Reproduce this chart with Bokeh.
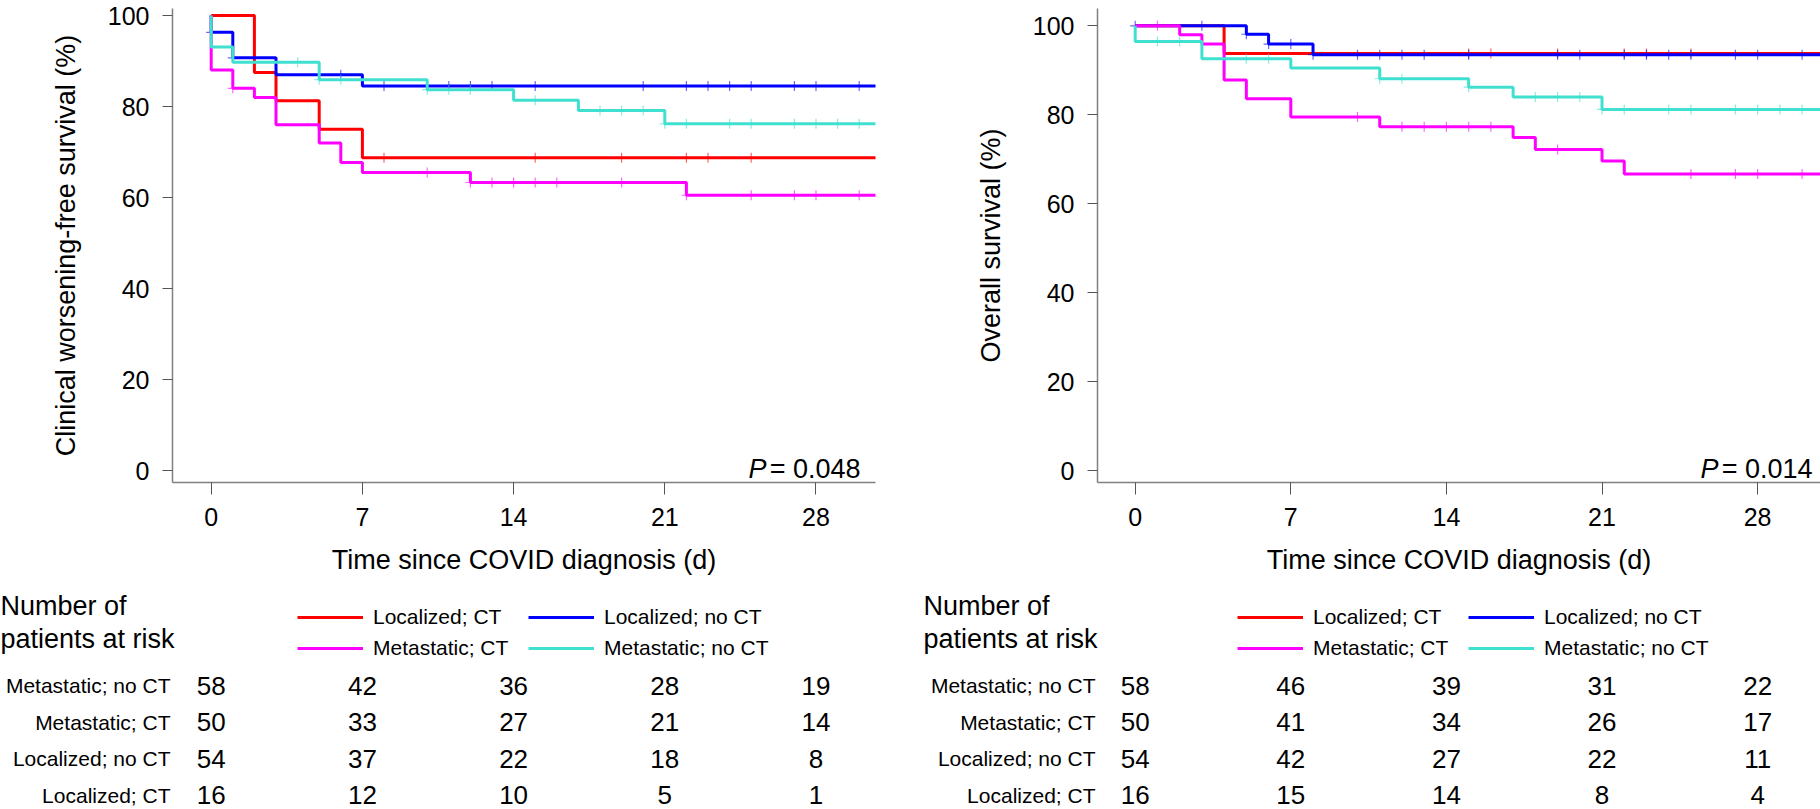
import numpy as np
from bokeh.plotting import figure
from bokeh.layouts import row, column
from bokeh.models import Range1d, FixedTicker, Legend, LegendItem, Label
from bokeh.core.properties import value
from bokeh.embed import file_html
from bokeh.resources import INLINE

FONT = "Liberation Sans"

# ---------------- data ----------------
group_names = ["Localized; CT", "Localized; no CT", "Metastatic; CT", "Metastatic; no CT"]
group_colors = ["#FF0000", "#0000FF", "#FF00FF", "#40E0D0"]

x_ticks = [0, 7, 14, 21, 28]
y_ticks = [0, 20, 40, 60, 80, 100]

# Clinical worsening-free survival (left)
cwfs_loc_ct_t = [0, 2, 3, 5, 7, 31]
cwfs_loc_ct_s = [100, 87.5, 81.25, 75.0, 68.75, 68.75]
cwfs_loc_ct_c = [8, 15, 19, 22, 23, 25]

cwfs_loc_noct_t = [0, 0, 1, 3, 7, 31]
cwfs_loc_noct_s = [100, 96.3, 90.7, 87.0, 84.5, 84.5]
cwfs_loc_noct_c = [0, 1, 6, 8, 11, 12, 13, 15, 20, 22, 23, 24, 25, 27, 28, 30]

cwfs_met_ct_t = [0, 0, 1, 2, 3, 5, 6, 7, 12, 22, 31]
cwfs_met_ct_s = [100, 88.0, 84.0, 82.0, 76.0, 72.0, 67.7, 65.5, 63.3, 60.5, 60.5]
cwfs_met_ct_c = [1, 10, 12, 13, 14, 15, 16, 19, 22, 25, 27, 28, 30]

cwfs_met_noct_t = [0, 0, 1, 5, 10, 14, 17, 21, 31]
cwfs_met_noct_s = [100, 93.1, 89.7, 85.9, 83.7, 81.4, 79.1, 76.2, 76.2]
cwfs_met_noct_c = [4, 5, 6, 10, 11, 12, 15, 18, 19, 20, 21, 22, 24, 25, 27, 28, 29, 30]

# Overall survival (right)
os_loc_ct_t = [0, 4, 31]
os_loc_ct_s = [100, 93.75, 93.75]
os_loc_ct_c = [15, 16, 19, 22, 23, 25]

os_loc_noct_t = [0, 5, 6, 8, 31]
os_loc_noct_s = [100, 98.1, 95.9, 93.5, 93.5]
os_loc_noct_c = [0, 3, 5, 6, 7, 8, 10, 11, 12, 13, 15, 19, 20, 22, 23, 24, 25, 27, 28, 30]

os_met_ct_t = [0, 2, 3, 4, 5, 7, 11, 17, 18, 21, 22, 31]
os_met_ct_s = [100, 98.0, 95.9, 87.8, 83.6, 79.5, 77.3, 74.9, 72.2, 69.6, 66.7, 66.7]
os_met_ct_c = [1, 10, 12, 13, 14, 15, 16, 19, 25, 27, 28, 30]

os_met_noct_t = [0, 0, 3, 7, 11, 15, 17, 21, 31]
os_met_noct_s = [100, 96.5, 92.6, 90.5, 88.1, 86.2, 84.0, 81.2, 81.2]
os_met_noct_c = [1, 2, 5, 6, 11, 12, 15, 18, 19, 20, 21, 22, 24, 25, 27, 28, 29, 30]

# Number at risk (rows top to bottom)
risk_row_names = ["Metastatic; no CT", "Metastatic; CT", "Localized; no CT", "Localized; CT"]
cwfs_risk_met_noct = [58, 42, 36, 28, 19]
cwfs_risk_met_ct = [50, 33, 27, 21, 14]
cwfs_risk_loc_noct = [54, 37, 22, 18, 8]
cwfs_risk_loc_ct = [16, 12, 10, 5, 1]
os_risk_met_noct = [58, 46, 39, 31, 22]
os_risk_met_ct = [50, 41, 34, 26, 17]
os_risk_loc_noct = [54, 42, 27, 22, 11]
os_risk_loc_ct = [16, 15, 14, 8, 4]

header_lines = ["Number of", "patients at risk"]
cwfs_p = "= 0.048"
os_p = "= 0.014"


# ---------------- helpers ----------------
TOP_H, BOT_H = 578, 231


def km_figure(curves, ylabel, pval, width, mb_l, mb_r, xr, yr, p_off):
    p = figure(width=width, height=TOP_H, x_range=Range1d(*xr), y_range=Range1d(*yr),
               output_backend="svg", toolbar_location=None,
               min_border_left=mb_l, min_border_right=mb_r, min_border_top=8,
               min_border_bottom=96)
    p.xgrid.visible = False
    p.ygrid.visible = False
    p.outline_line_color = None
    for t, s, c, col in curves:
        p.step(x=t, y=s, mode="after", line_color=col, line_width=3)
        idx = np.searchsorted(np.array(t), np.array(c), side="right") - 1
        cy = np.array(s)[idx]
        p.scatter(x=c, y=cy, marker="cross", size=10, line_color=col,
                  line_width=1.2, line_alpha=0.6)
    for ax, ticks, tick_out, title in ((p.xaxis[0], x_ticks, 12, "Time since COVID diagnosis (d)"),
                                       (p.yaxis[0], y_ticks, 10, ylabel)):
        ax.ticker = FixedTicker(ticks=ticks)
        ax.axis_label = title
        ax.axis_label_text_font = FONT
        ax.axis_label_text_font_style = "normal"
        ax.axis_label_text_font_size = "27px"
        ax.axis_label_text_color = "black"
        ax.major_label_text_font = FONT
        ax.major_label_text_font_size = "25px"
        ax.major_label_text_color = "black"
        ax.major_tick_out = tick_out
        ax.major_tick_in = 0
        ax.minor_tick_out = 0
        ax.minor_tick_in = 0
        ax.axis_line_color = "#808080"
        ax.axis_line_width = 1.5
        ax.major_tick_line_color = "#555555"
        ax.major_tick_line_width = 1
    p.xaxis[0].major_label_standoff = 13
    p.xaxis[0].axis_label_standoff = 16
    p.yaxis[0].major_label_standoff = 13
    p.yaxis[0].axis_label_standoff = 24
    p.add_layout(Label(x=xr[1], y=0.4, x_offset=p_off, text=pval, text_align="right",
                       text_baseline="alphabetic", text_font=FONT, text_font_size="27px",
                       text_color="black"))
    p.add_layout(Label(x=xr[1], y=0.4, x_offset=p_off - 94, text="P", text_align="right",
                       text_baseline="alphabetic", text_font=FONT, text_font_size="27px",
                       text_font_style="italic", text_color="black"))
    return p


def risk_figure(width, mb_l, mb_r, xr, risk_rows, legend_x, head_off):
    first, step = 107.0, 36.5
    b = figure(width=width, height=BOT_H, x_range=Range1d(*xr),
               y_range=Range1d((BOT_H - first) / step, -first / step),
               output_backend="svg", toolbar_location=None,
               x_axis_location=None, y_axis_location="left",
               min_border_left=mb_l, min_border_right=mb_r, min_border_top=0,
               min_border_bottom=0)
    b.xgrid.visible = False
    b.ygrid.visible = False
    b.outline_line_color = None
    # row labels as left axis tick labels
    ya = b.yaxis[0]
    ya.ticker = FixedTicker(ticks=list(range(len(risk_row_names))))
    ya.major_label_overrides = {i: n for i, n in enumerate(risk_row_names)}
    ya.major_label_text_font = FONT
    ya.major_label_text_font_size = "21px"
    ya.major_label_text_color = "black"
    ya.major_tick_out = 0
    ya.major_tick_in = 0
    ya.minor_tick_out = 0
    ya.minor_tick_in = 0
    ya.axis_line_color = None
    ya.major_label_standoff = 2
    # numbers at risk
    xs, ys, txt = [], [], []
    for r, vals in enumerate(risk_rows):
        for d, v in zip(x_ticks, vals):
            xs.append(d)
            ys.append(r)
            txt.append(str(v))
    b.text(x=xs, y=ys, text=txt, text_align="center", text_baseline="middle",
           text_font=value(FONT), text_font_size="26px", text_color="black")
    # header
    b.text(x=[xr[0], xr[0]], y=[(27 - first) / step, (60 - first) / step],
           text=header_lines, text_align="left", text_baseline="middle",
           x_offset=head_off, text_font=value(FONT), text_font_size="27px",
           text_color="black", level="overlay")
    # legend
    rends = {}
    for name, col in zip(group_names, group_colors):
        rends[name] = b.line(x=[np.nan, np.nan], y=[np.nan, np.nan], line_color=col, line_width=3)
    order = ["Localized; CT", "Metastatic; CT", "Localized; no CT", "Metastatic; no CT"]
    leg = Legend(items=[LegendItem(label=n, renderers=[rends[n]]) for n in order],
                 location=(legend_x, 149), orientation="vertical", ncols=2,
                 glyph_width=66, glyph_height=24, label_height=24, label_width=148,
                 label_standoff=10, spacing=7, padding=0, margin=0,
                 border_line_alpha=0, background_fill_alpha=0,
                 label_text_font=FONT, label_text_font_size="21px", label_text_color="black")
    b.add_layout(leg)
    return b


cwfs_curves = [
    (cwfs_loc_ct_t, cwfs_loc_ct_s, cwfs_loc_ct_c, group_colors[0]),
    (cwfs_loc_noct_t, cwfs_loc_noct_s, cwfs_loc_noct_c, group_colors[1]),
    (cwfs_met_ct_t, cwfs_met_ct_s, cwfs_met_ct_c, group_colors[2]),
    (cwfs_met_noct_t, cwfs_met_noct_s, cwfs_met_noct_c, group_colors[3]),
]
os_curves = [
    (os_loc_ct_t, os_loc_ct_s, os_loc_ct_c, group_colors[0]),
    (os_loc_noct_t, os_loc_noct_s, os_loc_noct_c, group_colors[1]),
    (os_met_ct_t, os_met_ct_s, os_met_ct_c, group_colors[2]),
    (os_met_noct_t, os_met_noct_s, os_met_noct_c, group_colors[3]),
]

L_W, R_W = 920, 900
L_XR = (-1.792, 30.755)
R_XR = (-1.696, 30.828)

top_left = km_figure(cwfs_curves, "Clinical worsening-free survival (%)", cwfs_p,
                     L_W, 172, 45, L_XR, (-2.637, 101.54), -15)
top_right = km_figure(os_curves, "Overall survival (%)", os_p,
                      R_W, 177, 0, R_XR, (-2.652, 103.89), -8)

bot_left = risk_figure(L_W, 172, 45, L_XR,
                       [cwfs_risk_met_noct, cwfs_risk_met_ct, cwfs_risk_loc_noct, cwfs_risk_loc_ct],
                       125, -172)
bot_right = risk_figure(R_W, 177, 0, R_XR,
                        [os_risk_met_noct, os_risk_met_ct, os_risk_loc_noct, os_risk_loc_ct],
                        140, -174)

layout = row(column(top_left, bot_left), column(top_right, bot_right))

open("out.html", "w").write(file_html(layout, INLINE))
